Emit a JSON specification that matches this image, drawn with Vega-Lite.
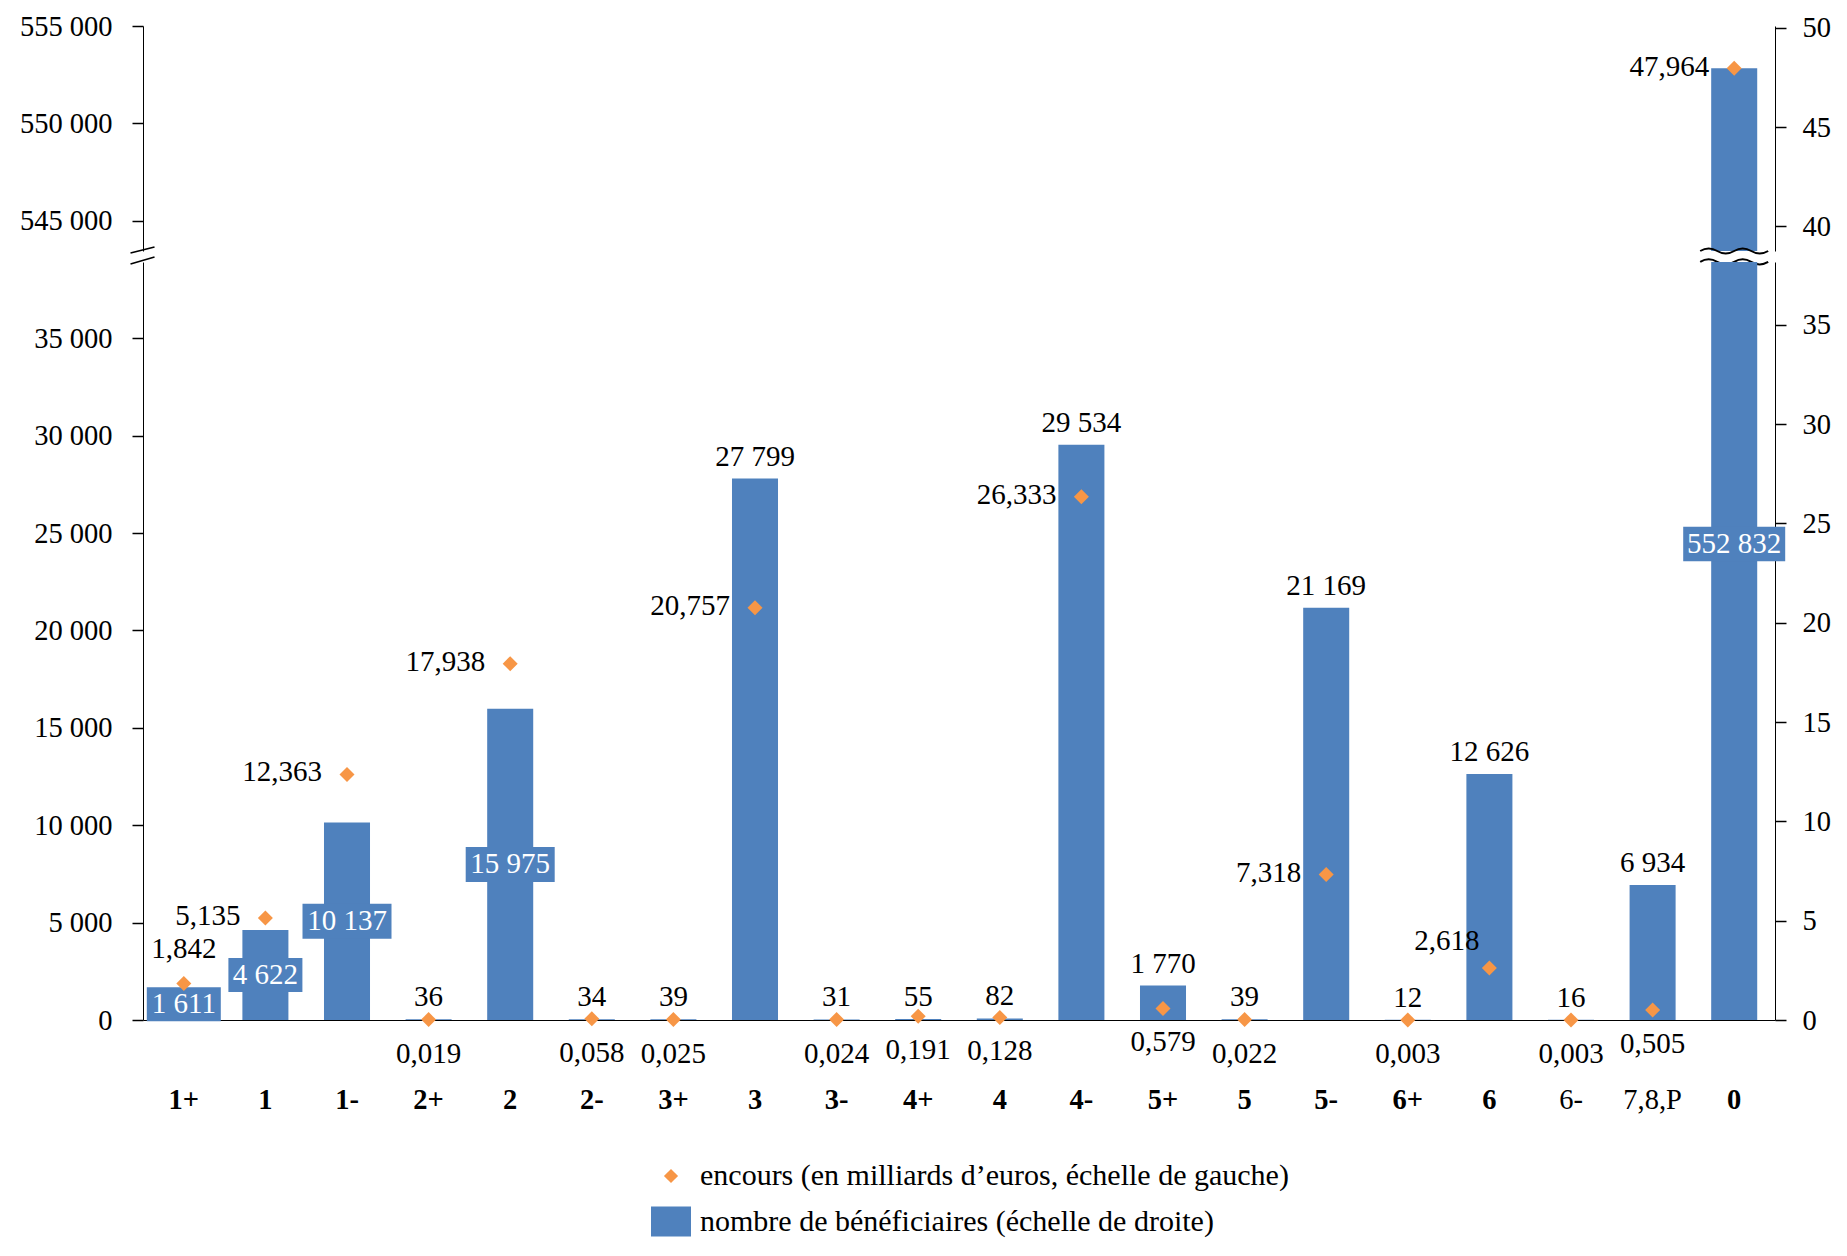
{
  "$schema": "https://vega.github.io/schema/vega-lite/v6.json",
  "padding": {"left": 19, "top": 12, "right": 5, "bottom": 5},
  "config": {
    "locale": {"number": {"decimal": ",", "thousands": " ", "grouping": [3], "currency": ["", " €"]}},
    "view": {"stroke": null},
    "font": "Liberation Serif",
    "text": {"font": "Liberation Serif", "fontSize": 29, "color": "#000000"},
    "axis": {"labelFont": "Liberation Serif", "labelFontSize": 28.5, "labelColor": "#000000", "domainColor": "#000000", "tickColor": "#000000", "grid": false, "title": null}
  },
  "datasets": {
    "d": [
      {"cat": "1+", "nombre": 1611, "encours": 1.842},
      {"cat": "1", "nombre": 4622, "encours": 5.135},
      {"cat": "1-", "nombre": 10137, "encours": 12.363},
      {"cat": "2+", "nombre": 36, "encours": 0.019},
      {"cat": "2", "nombre": 15975, "encours": 17.938},
      {"cat": "2-", "nombre": 34, "encours": 0.058},
      {"cat": "3+", "nombre": 39, "encours": 0.025},
      {"cat": "3", "nombre": 27799, "encours": 20.757},
      {"cat": "3-", "nombre": 31, "encours": 0.024},
      {"cat": "4+", "nombre": 55, "encours": 0.191},
      {"cat": "4", "nombre": 82, "encours": 0.128},
      {"cat": "4-", "nombre": 29534, "encours": 26.333},
      {"cat": "5+", "nombre": 1770, "encours": 0.579},
      {"cat": "5", "nombre": 39, "encours": 0.022},
      {"cat": "5-", "nombre": 21169, "encours": 7.318},
      {"cat": "6+", "nombre": 12, "encours": 0.003},
      {"cat": "6", "nombre": 12626, "encours": 2.618},
      {"cat": "6-", "nombre": 16, "encours": 0.003},
      {"cat": "7,8,P", "nombre": 6934, "encours": 0.505},
      {"cat": "0", "nombre": 552832, "encours": 47.964}
    ]
  },
  "spacing": 11,
  "bounds": "flush",
  "resolve": {"scale": {"y": "independent", "color": "shared"}},
  "vconcat": [
    {
      "width": 1632,
      "height": 225,
      "data": {"name": "d"},
      "transform": [{"filter": "datum.cat === '0'"}],
      "encoding": {
        "x": {"field": "cat", "type": "nominal", "scale": {"domain": ["1+","1","1-","2+","2","2-","3+","3","3-","4+","4","4-","5+","5","5-","6+","6","6-","7,8,P","0"], "paddingInner": 0.436, "paddingOuter": 0.218}, "axis": null}
      },
      "resolve": {"scale": {"y": "independent"}},
      "layer": [
        {
          "encoding": {"y": {"field": "nombre", "type": "quantitative", "scale": {"domain": [543446, 555000], "nice": false, "zero": false}, "axis": {"orient": "left", "values": [545000, 550000, 555000], "format": ",d", "tickSize": 11, "tickWidth": 1.5, "domainWidth": 1, "labelPadding": 20}}},
          "layer": [
            {"mark": {"type": "bar", "color": "#4F81BD", "clip": true}},
            {"mark": {"type": "point", "shape": "M-4.44,0.17L-2.44,-0.33M-4.44,1.08L-2.44,0.5", "size": 576, "filled": false, "stroke": "#000000", "strokeWidth": 1.6, "opacity": 1}, "encoding": {"x": {"datum": "1+"}, "y": {"datum": 543446}}},
            {"mark": {"type": "point", "shape": "M-1,0Q-0.75,-0.15,-0.5,0Q-0.25,0.15,0,0Q0.25,-0.15,0.5,0Q0.75,0.15,1,0M-1,0.32Q-0.75,0.17,-0.5,0.32Q-0.25,0.47,0,0.32Q0.25,0.17,0.5,0.32Q0.75,0.47,1,0.32", "size": 4624, "filled": false, "stroke": "#000000", "strokeWidth": 2, "opacity": 1}, "encoding": {"y": {"datum": 543446}}}
          ]
        },
        {
          "encoding": {"y": {"field": "encours", "type": "quantitative", "scale": {"domain": [38.76, 50.086], "nice": false, "zero": false}, "axis": {"orient": "right", "values": [40, 45, 50], "format": "d", "tickSize": 11, "tickWidth": 1.5, "domainWidth": 1, "labelPadding": 16}}},
          "layer": [
            {"mark": {"type": "point", "shape": "diamond", "filled": true, "size": 225, "color": "#F79646", "opacity": 1, "strokeWidth": 0}},
            {"mark": {"type": "text", "align": "right", "baseline": "alphabetic", "dx": -25, "dy": 8, "fontSize": 29}, "encoding": {"text": {"field": "encours", "type": "quantitative", "format": ".3f"}}}
          ]
        }
      ]
    },
    {
      "width": 1632,
      "height": 758,
      "data": {"name": "d"},
      "encoding": {
        "x": {"field": "cat", "type": "nominal", "scale": {"domain": ["1+","1","1-","2+","2","2-","3+","3","3-","4+","4","4-","5+","5","5-","6+","6","6-","7,8,P","0"], "paddingInner": 0.436, "paddingOuter": 0.218},
          "axis": {"orient": "bottom", "domain": true, "domainWidth": 1, "ticks": false, "labelPadding": 88, "labelBaseline": "alphabetic", "labelAngle": 0, "labelFontSize": 28.5,
            "labelFontWeight": {"condition": {"test": "datum.value === '6-' || datum.value === '7,8,P'", "value": "normal"}, "value": "bold"}}}
      },
      "resolve": {"scale": {"y": "independent"}},
      "layer": [
        {
          "encoding": {"y": {"field": "nombre", "type": "quantitative", "scale": {"domain": [0, 38920], "nice": false}, "axis": {"orient": "left", "values": [0, 5000, 10000, 15000, 20000, 25000, 30000, 35000], "format": ",d", "tickSize": 11, "tickWidth": 1.5, "domainWidth": 1, "labelPadding": 20}}},
          "layer": [
            {"mark": {"type": "bar", "clip": true},
             "encoding": {"color": {"datum": "nombre", "type": "nominal", "scale": {"domain": ["encours", "nombre"], "range": ["#F79646", "#4F81BD"]},
               "legend": {"orient": "none", "legendX": 513, "legendY": 1135, "direction": "vertical", "title": null, "padding": 0,
                 "symbolSize": 1600, "symbolStrokeWidth": 0, "labelFont": "Liberation Serif", "labelFontSize": 30, "labelColor": "#000000", "labelOffset": 14, "rowPadding": 15.5, "labelLimit": 1000,
                 "labelExpr": "datum.value === 'encours' ? 'encours (en milliards d’euros, échelle de gauche)' : 'nombre de bénéficiaires (échelle de droite)'",
                 "encode": {"symbols": {"update": {
                   "shape": {"signal": "datum.value === 'nombre' ? 'M-1,-0.75L1,-0.75L1,0.75L-1,0.75Z' : 'diamond'"},
                   "size": {"signal": "datum.value === 'nombre' ? 1600 : 200"},
                   "strokeWidth": {"value": 0}}}}}}}},
            {"transform": [{"filter": {"field": "cat", "oneOf": ["2+","2-","3+","3","3-","4+","4","4-","5+","5","5-","6+","6","6-","7,8,P"]}}],
             "mark": {"type": "text", "align": "center", "baseline": "alphabetic", "dy": -13, "fontSize": 29},
             "encoding": {"text": {"field": "nombre", "type": "quantitative", "format": ",d"}}},
            {"transform": [{"filter": "datum.cat === '0'"}],
             "mark": {"type": "point", "shape": "M-1,-0.336L1,-0.336L1,0.336L-1,0.336Z", "size": 10404, "filled": true, "opacity": 1, "color": "#4F81BD", "strokeWidth": 0},
             "encoding": {"y": {"datum": 24440}}},
            {"transform": [{"filter": "datum.cat === '0'"}],
             "mark": {"type": "text", "align": "center", "baseline": "middle", "fontSize": 29, "color": "#FFFFFF"},
             "encoding": {"y": {"datum": 24440}, "text": {"field": "nombre", "type": "quantitative", "format": ",d"}}}
          ]
        },
        {
          "encoding": {"y": {"field": "nombre", "type": "quantitative", "scale": {"domain": [0, 77840], "nice": false}, "axis": null}},
          "layer": [
            {"transform": [{"filter": {"field": "cat", "oneOf": ["1+", "1"]}}],
             "mark": {"type": "point", "shape": "M-1,-0.4595L1,-0.4595L1,0.4595L-1,0.4595Z", "size": 5476, "filled": true, "opacity": 1, "color": "#4F81BD", "strokeWidth": 0}},
            {"transform": [{"filter": {"field": "cat", "oneOf": ["1-", "2"]}}],
             "mark": {"type": "point", "shape": "M-1,-0.393L1,-0.393L1,0.393L-1,0.393Z", "size": 7921, "filled": true, "opacity": 1, "color": "#4F81BD", "strokeWidth": 0}},
            {"transform": [{"filter": {"field": "cat", "oneOf": ["1+", "1", "1-", "2"]}}],
             "mark": {"type": "text", "align": "center", "baseline": "middle", "fontSize": 29, "color": "#FFFFFF"},
             "encoding": {"text": {"field": "nombre", "type": "quantitative", "format": ",d"}}}
          ]
        },
        {
          "transform": [{"filter": "datum.cat !== '0'"}],
          "encoding": {"y": {"field": "encours", "type": "quantitative", "scale": {"domain": [0, 38.155], "nice": false}, "axis": {"orient": "right", "values": [0, 5, 10, 15, 20, 25, 30, 35], "format": "d", "tickSize": 11, "tickWidth": 1.5, "domainWidth": 1, "labelPadding": 16}}},
          "layer": [
            {"mark": {"type": "point", "shape": "diamond", "filled": true, "size": 225, "opacity": 1, "strokeWidth": 0},
             "encoding": {"color": {"datum": "encours", "type": "nominal"}}},
            {"transform": [{"filter": {"field": "cat", "oneOf": ["1", "1-", "2", "3", "4-", "5-"]}}],
             "mark": {"type": "text", "align": "right", "baseline": "alphabetic", "dx": -25, "dy": 7, "fontSize": 29},
             "encoding": {"text": {"field": "encours", "type": "quantitative", "format": ".3f"}}},
            {"transform": [{"filter": {"field": "cat", "oneOf": ["2+","2-","3+","3-","4+","4","5+","5","6+","6-","7,8,P"]}}],
             "mark": {"type": "text", "align": "center", "baseline": "alphabetic", "dy": 43, "fontSize": 29},
             "encoding": {"text": {"field": "encours", "type": "quantitative", "format": ".3f"}}},
            {"transform": [{"filter": {"field": "cat", "equal": "1+"}}],
             "mark": {"type": "text", "align": "center", "baseline": "alphabetic", "dy": -25, "fontSize": 29},
             "encoding": {"text": {"field": "encours", "type": "quantitative", "format": ".3f"}}},
            {"transform": [{"filter": {"field": "cat", "equal": "6"}}],
             "mark": {"type": "text", "align": "right", "baseline": "alphabetic", "dx": -10, "dy": -18, "fontSize": 29},
             "encoding": {"text": {"field": "encours", "type": "quantitative", "format": ".3f"}}}
          ]
        }
      ]
    }
  ]
}
